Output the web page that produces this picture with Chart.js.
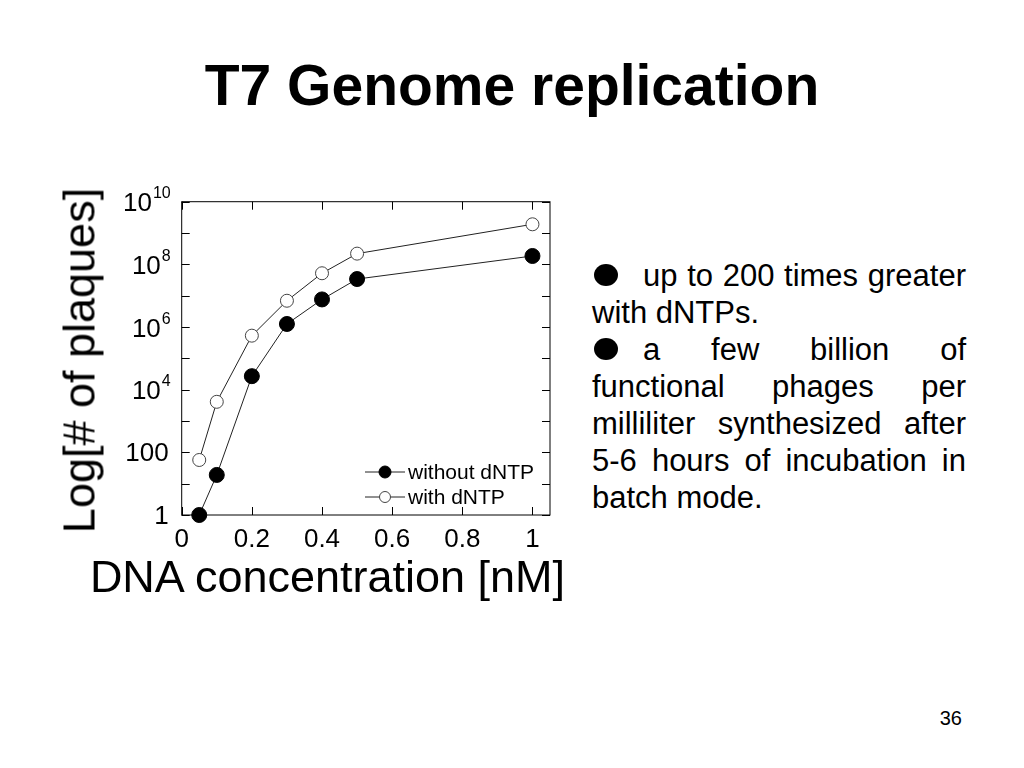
<!DOCTYPE html>
<html>
<head>
<meta charset="utf-8">
<script src="https://cdn.jsdelivr.net/npm/chart.js@4.4.1/dist/chart.umd.min.js"></script>
<style>
  html, body { margin: 0; padding: 0; background: #fff; }
  body { width: 1024px; height: 768px; position: relative; overflow: hidden;
         font-family: "Liberation Sans", Arial, sans-serif; color: #000; }
  #title { position: absolute; left: 0; top: 50px; width: 1024px; text-align: center;
           font-weight: bold; font-size: 57px; line-height: 70px; }
  #chartBox { position: absolute; left: 100px; top: 170px; width: 480px; height: 440px; }
  #xTitle { position: absolute; left: 40px; top: 554px; width: 575px; text-align: center;
            font-size: 45px; line-height: 45px; white-space: nowrap; }
  #yTitle { position: absolute; left: -121.5px; top: 337.5px; width: 400px; height: 45px;
            text-align: center; font-size: 45px; line-height: 45px; white-space: nowrap;
            transform: rotate(-90deg); }
  #notes { position: absolute; left: 592px; top: 257px; width: 374px;
           font-size: 31px; line-height: 37px; text-align: justify; }
  #notes p { margin: 0; }
  .bullet { display: inline-block; width: 51px; position: relative; height: 20px; }
  .bullet i { position: absolute; left: 2px; top: -2px; width: 24px; height: 22px;
              border-radius: 50%; background: #000; font-style: normal; color: transparent;
              font-size: 10px; line-height: 22px; overflow: hidden; }
  #page { position: absolute; left: 900px; top: 706px; width: 62px; text-align: right;
          font-size: 20px; line-height: 24px; }
</style>
</head>
<body>
<div id="title">T7 Genome replication</div>
<div id="chartBox"><canvas id="c"></canvas></div>
<div id="yTitle">Log[# of plaques]</div>
<div id="xTitle">DNA concentration [nM]</div>
<div id="notes">
  <p><span class="bullet"><i>●</i></span>up to 200 times greater with dNTPs.</p>
  <p><span class="bullet"><i>●</i></span>a few billion of functional phages per milliliter synthesized after 5-6 hours of incubation in batch mode.</p>
</div>
<div id="page">36</div>
<script>
// ---- data ----
const concentrations = [0.05, 0.1, 0.2, 0.3, 0.4, 0.5, 1.0];
const withoutDNTP = [1, 19, 2.7e4, 1.25e6, 7.6e6, 3.4e7, 1.85e8];
const withDNTP = [57, 4.1e3, 5.3e5, 6.9e6, 5.2e7, 2.2e8, 1.9e9];
const seriesLabels = ['without dNTP', 'with dNTP'];
const xTickValues = [0, 0.2, 0.4, 0.6, 0.8, 1];
const xTickLabels = ['0', '0.2', '0.4', '0.6', '0.8', '1'];
const yTickValues = [1, 1e1, 1e2, 1e3, 1e4, 1e5, 1e6, 1e7, 1e8, 1e9, 1e10];
const yTickLabels = ['1', '', '100', '', '10^4', '', '10^6', '', '10^8', '', '10^10'];

const FONT = '"Liberation Sans", Arial, sans-serif';

const framePlugin = {
  id: 'frame',
  beforeDatasetsDraw(chart) {
    const { ctx, chartArea: a, scales: { x, y } } = chart;
    ctx.save();
    ctx.strokeStyle = '#000';
    ctx.lineWidth = 1;
    ctx.strokeRect(a.left, a.top, a.width, a.height);
    const L = 8;
    ctx.beginPath();
    y.ticks.forEach(t => {
      const py = Math.round(y.getPixelForValue(t.value)) + 0.5;
      ctx.moveTo(a.left, py); ctx.lineTo(a.left + L, py);
      ctx.moveTo(a.right - L, py); ctx.lineTo(a.right, py);
    });
    x.ticks.forEach(t => {
      const px = Math.round(x.getPixelForValue(t.value)) + 0.5;
      ctx.moveTo(px, a.bottom); ctx.lineTo(px, a.bottom - L);
      ctx.moveTo(px, a.top); ctx.lineTo(px, a.top + L);
    });
    ctx.stroke();

    // y tick labels with superscript exponents
    ctx.fillStyle = '#000';
    ctx.textAlign = 'right';
    ctx.textBaseline = 'alphabetic';
    const R = a.left - 11;
    y.ticks.forEach((t) => {
      const lbl = yTickLabels[yTickValues.indexOf(t.value)] || '';
      if (!lbl) return;
      const py = y.getPixelForValue(t.value);
      const parts = lbl.split('^');
      if (parts.length === 2) {
        ctx.font = '16px ' + FONT;
        const ew = ctx.measureText(parts[1]).width;
        ctx.fillText(parts[1], R, py - 3.5);
        ctx.font = '26px ' + FONT;
        ctx.fillText(parts[0], R - ew - 1, py + 9.5);
      } else {
        ctx.font = '26px ' + FONT;
        ctx.fillText(parts[0], R - 2, py + 9);
      }
    });
    ctx.restore();
  },
  afterDraw(chart) {
    const { ctx, chartArea: a } = chart;
    ctx.save();
    ctx.font = '21px ' + FONT;
    ctx.textBaseline = 'middle';
    const rows = [a.bottom - 43, a.bottom - 18];
    chart.data.datasets.forEach((ds, i) => {
      const yy = rows[i];
      const x0 = a.right - 185, x1 = a.right - 145, xm = (x0 + x1) / 2;
      ctx.strokeStyle = ds.borderColor; ctx.lineWidth = 1;
      ctx.beginPath(); ctx.moveTo(x0, yy); ctx.lineTo(x1, yy); ctx.stroke();
      ctx.beginPath(); ctx.arc(xm, yy, i === 0 ? 6 : 5.5, 0, Math.PI * 2);
      ctx.fillStyle = ds.pointBackgroundColor; ctx.fill();
      ctx.strokeStyle = ds.pointBorderColor; ctx.stroke();
      ctx.fillStyle = '#000';
      ctx.fillText(ds.label, x1 + 3, yy + 1);
    });
    ctx.restore();
  }
};

new Chart(document.getElementById('c'), {
  type: 'line',
  data: {
    datasets: [
      {
        label: seriesLabels[0],
        data: concentrations.map((c, i) => ({ x: c, y: withoutDNTP[i] })),
        borderColor: '#222', borderWidth: 1,
        pointRadius: 7.5, pointBackgroundColor: '#000', pointBorderColor: '#000', pointBorderWidth: 1,
        clip: false
      },
      {
        label: seriesLabels[1],
        data: concentrations.map((c, i) => ({ x: c, y: withDNTP[i] })),
        borderColor: '#222', borderWidth: 1,
        pointRadius: 6.5, pointBackgroundColor: '#fff', pointBorderColor: '#444', pointBorderWidth: 1,
        clip: false
      }
    ]
  },
  options: {
    responsive: true, maintainAspectRatio: false, animation: false,
    layout: { padding: { left: 0, top: 31.7, right: 30, bottom: 0 } },
    plugins: { legend: { display: false }, tooltip: { enabled: false } },
    scales: {
      x: {
        type: 'linear', min: 0, max: 1.05,
        grid: { display: false, drawTicks: false },
        border: { display: false },
        afterBuildTicks: s => { s.ticks = xTickValues.map(v => ({ value: v })); },
        afterFit: s => { s.height = 95; },
        ticks: {
          padding: 9, color: '#000', font: { family: FONT, size: 26 },
          callback: (v) => { const i = xTickValues.indexOf(v); return i >= 0 ? xTickLabels[i] : ''; }
        }
      },
      y: {
        type: 'logarithmic', min: 1, max: 1e10,
        grid: { display: false, drawTicks: false },
        border: { display: false },
        afterBuildTicks: s => { s.ticks = yTickValues.map(v => ({ value: v })); },
        afterFit: s => { s.width = 81.7; },
        ticks: {
          display: false, autoSkip: false,
          callback: (v) => { const i = yTickValues.indexOf(v); return i >= 0 ? yTickLabels[i] : ''; }
        }
      }
    }
  },
  plugins: [framePlugin]
});
</script>
</body>
</html>
